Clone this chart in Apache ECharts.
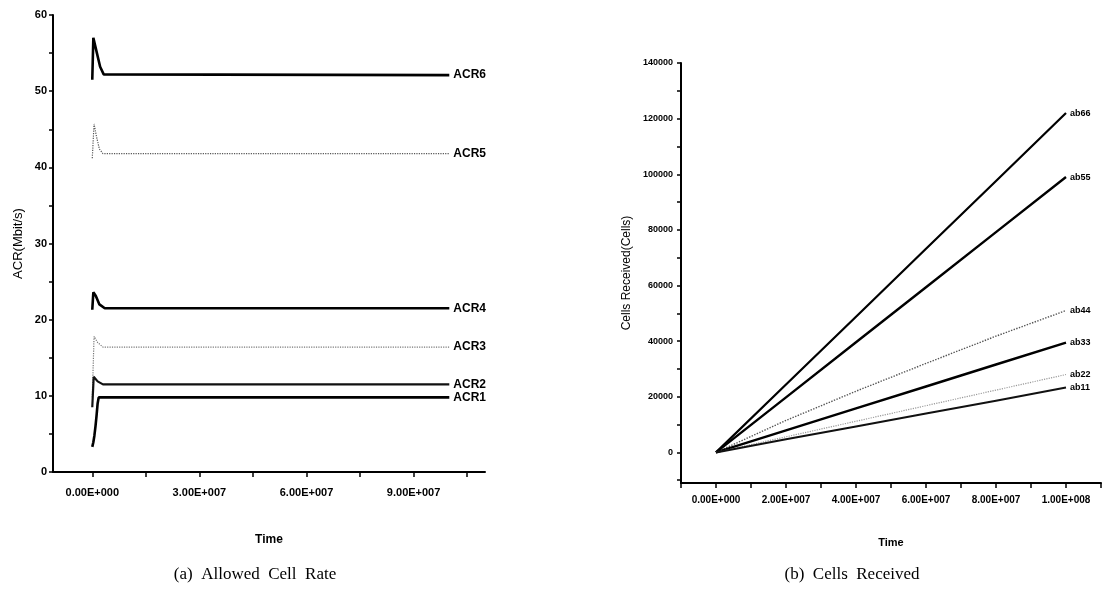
<!DOCTYPE html>
<html><head><meta charset="utf-8">
<script src="https://cdn.jsdelivr.net/npm/echarts@6/dist/echarts.min.js"></script>
<style>html,body{margin:0;padding:0;background:#fff}#c{width:1112px;height:598px}</style>
</head><body><div id="c"></div>
<script>
// ---------- Data: (a) Allowed Cell Rate ----------
const acrNames = ['ACR6','ACR5','ACR4','ACR3','ACR2','ACR1'];
const acr6 = [[0,51.5],[3e5,57],[8e5,56.8],[1.3e6,55],[2.2e6,53.2],[3.2e6,52.2],[1e8,52.1]];
const acr5 = [[0,41.2],[5e5,45.7],[1.2e6,44],[2e6,42.4],[3e6,41.8],[1e8,41.8]];
const acr4 = [[0,21.3],[3e5,23.6],[1e6,23.1],[2e6,22],[3.5e6,21.5],[1e8,21.5]];
const acr3 = [[0,9.8],[5e5,17.8],[1.5e6,17],[3e6,16.4],[1e8,16.4]];
const acr2 = [[0,8.5],[4e5,12.5],[1.5e6,11.9],[3e6,11.5],[1e8,11.5]];
const acr1 = [[0,3.3],[3e5,3.9],[6e5,4.8],[9e5,6],[1.2e6,7.4],[1.5e6,9],[1.8e6,9.8],[1e8,9.8]];
const leftXLabelValues = [0,3e7,6e7,9e7];
const leftXLabels = ['0.00E+000','3.00E+007','6.00E+007','9.00E+007'];
const leftXTickValues = [0,1.5e7,3e7,4.5e7,6e7,7.5e7,9e7,1.05e8];
const leftYLabelValues = [0,10,20,30,40,50,60];
const leftYTickValues = [0,5,10,15,20,25,30,35,40,45,50,55,60];

// ---------- Data: (b) Cells Received ----------
const abNames = ['ab66','ab55','ab44','ab33','ab22','ab11'];
const abTimes = [0,2e7,4e7,6e7,8e7,1e8];
const ab66 = [0,24400,48800,73200,97600,122000];
const ab55 = [0,19800,39600,59400,79200,99000];
const ab44 = [0,11500,22000,32000,41800,51000];
const ab33 = [0,7900,15800,23700,31600,39500];
const ab22 = [0,5600,11200,16800,22400,28000];
const ab11 = [0,4700,9300,14000,18600,23300];
const rightXLabelValues = [0,2e7,4e7,6e7,8e7,1e8];
const rightXLabels = ['0.00E+000','2.00E+007','4.00E+007','6.00E+007','8.00E+007','1.00E+008'];
const rightXTickValues = [-1e7,0,1e7,2e7,3e7,4e7,5e7,6e7,7e7,8e7,9e7,1e8,1.1e8];
const rightYLabelValues = [0,20000,40000,60000,80000,100000,120000,140000];
const rightYLabels = ['0','20000','40000','60000','80000','100000','120000','140000'];
const rightYTickValues = [-10000,0,10000,20000,30000,40000,50000,60000,70000,80000,90000,100000,110000,120000,130000,140000];

const FONT = "'Liberation Sans Narrow','Liberation Sans',Arial,sans-serif";
const SERIF = "'Liberation Serif','DejaVu Serif',serif";

function mapLabel(vals, labs){ return v => { const i = vals.indexOf(v); return i >= 0 ? labs[i] : ''; }; }
function zip(t, v){ return t.map((x,i)=>[x, v[i]]); }

const axisLine = {show:true, onZero:false, lineStyle:{color:'#000', width:2}};

const acrData = [acr6, acr5, acr4, acr3, acr2, acr1];
const acrStyle = [
  {width:2.6, type:'solid', color:'#000'},
  {width:1.2, type:'dotted', color:'#555'},
  {width:2.6, type:'solid', color:'#000'},
  {width:1.2, type:'dotted', color:'#777'},
  {width:2.2, type:'solid', color:'#111'},
  {width:2.6, type:'solid', color:'#000'}
];
const abData = [ab66, ab55, ab44, ab33, ab22, ab11];
const abStyle = [
  {width:2.2, type:'solid', color:'#000'},
  {width:2.4, type:'solid', color:'#000'},
  {width:1.4, type:'dotted', color:'#555'},
  {width:2.4, type:'solid', color:'#000'},
  {width:1.2, type:'dotted', color:'#999'},
  {width:2, type:'solid', color:'#111'}
];

const series = [];
acrNames.forEach((n,i)=>{
  series.push({name:n, type:'line', xAxisIndex:0, yAxisIndex:0, data:acrData[i], showSymbol:false, symbol:'none',
    lineStyle:acrStyle[i], animation:false, silent:true,
    endLabel:{show:true, formatter:'{a}', distance:4, color:'#000', fontFamily:FONT, fontWeight:'bold', fontSize:12}});
});
abNames.forEach((n,i)=>{
  series.push({name:n, type:'line', xAxisIndex:1, yAxisIndex:1, data:zip(abTimes, abData[i]), showSymbol:false, symbol:'none',
    lineStyle:abStyle[i], animation:false, silent:true,
    endLabel:{show:true, formatter:'{a}', distance:4, color:'#000', fontFamily:FONT, fontWeight:'bold', fontSize:9}});
});

const chart = echarts.init(document.getElementById('c'), null, {renderer:'canvas'});
chart.setOption({
  backgroundColor:'#fff',
  animation:false,
  grid:[
    {left:53, top:15, width:432, height:457},
    {left:681, top:63, width:420, height:420}
  ],
  xAxis:[
    {type:'value', gridIndex:0, min:-1.1e7, max:1.1e8, splitLine:{show:false}, axisLine:axisLine,
     axisTick:{show:true, customValues:leftXTickValues, length:5, lineStyle:{color:'#000', width:1.5}},
     axisLabel:{customValues:leftXLabelValues, formatter:mapLabel(leftXLabelValues,leftXLabels), color:'#000', fontFamily:FONT, fontWeight:'bold', fontSize:11, margin:15},
     name:'Time', nameLocation:'middle', nameGap:62, nameTextStyle:{color:'#000', fontFamily:FONT, fontWeight:'bold', fontSize:12}},
    {type:'value', gridIndex:1, min:-1e7, max:1.1e8, splitLine:{show:false}, axisLine:axisLine,
     axisTick:{show:true, customValues:rightXTickValues, length:5, lineStyle:{color:'#000', width:1.5}},
     axisLabel:{customValues:rightXLabelValues, formatter:mapLabel(rightXLabelValues,rightXLabels), color:'#000', fontFamily:FONT, fontWeight:'bold', fontSize:10, margin:12},
     name:'Time', nameLocation:'middle', nameGap:54, nameTextStyle:{color:'#000', fontFamily:FONT, fontWeight:'bold', fontSize:11}}
  ],
  yAxis:[
    {type:'value', gridIndex:0, min:0, max:60, splitLine:{show:false}, axisLine:axisLine,
     axisTick:{show:true, customValues:leftYTickValues, length:4, lineStyle:{color:'#000', width:1.5}},
     axisLabel:{customValues:leftYLabelValues, color:'#000', fontFamily:FONT, fontWeight:'bold', fontSize:11, margin:6},
     name:'ACR(Mbit/s)', nameLocation:'middle', nameRotate:90, nameGap:28, nameTextStyle:{color:'#000', fontFamily:"'Liberation Sans',Arial,sans-serif", fontSize:13}},
    {type:'value', gridIndex:1, min:-11000, max:140000, splitLine:{show:false}, axisLine:axisLine,
     axisTick:{show:true, customValues:rightYTickValues, length:4, lineStyle:{color:'#000', width:1.5}},
     axisLabel:{customValues:rightYLabelValues, formatter:mapLabel(rightYLabelValues,rightYLabels), color:'#000', fontFamily:FONT, fontWeight:'bold', fontSize:9, margin:8},
     name:'Cells Received(Cells)', nameLocation:'middle', nameRotate:90, nameGap:48, nameTextStyle:{color:'#000', fontFamily:"'Liberation Sans',Arial,sans-serif", fontSize:12}}
  ],
  graphic:[
    {type:'text', style:{text:'(a)  Allowed  Cell  Rate', x:255, y:575, align:'center', verticalAlign:'middle', font:"17px "+SERIF, fill:'#000'}},
    {type:'text', style:{text:'(b)  Cells  Received', x:852, y:575, align:'center', verticalAlign:'middle', font:"17px "+SERIF, fill:'#000'}}
  ],
  series:series
});
</script></body></html>
